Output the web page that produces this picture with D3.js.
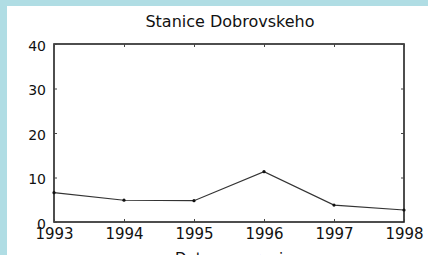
<!DOCTYPE html>
<html>
<head>
<meta charset="utf-8">
<script src="https://cdn.jsdelivr.net/npm/d3@7"></script>
<style>
  body { margin: 0; background: #b0dde4; }
  svg { display: block; }
  text { font-family: "DejaVu Sans", sans-serif; fill: #111; }
</style>
</head>
<body>
<svg id="vis" width="428" height="255"></svg>
<script>
// data
var years = [1993, 1994, 1995, 1996, 1997, 1998];
var values = [6.6, 4.9, 4.8, 11.3, 3.8, 2.7];
var yTicks = [0, 10, 20, 30, 40];
var title = "Stanice Dobrovskeho";
var xLabel = "Datum mereni";

// constant
var plotLeft = 54, plotRight = 404, plotTop = 44, plotBottom = 222;

var svg = d3.select("#vis");

// white panel
svg.append("rect")
    .attr("x", 7).attr("y", 6)
    .attr("width", 421).attr("height", 249)
    .style("fill", "white");

var x = d3.scaleLinear().domain([1993, 1998]).range([plotLeft, plotRight]);
var y = d3.scaleLinear().domain([0, 40]).range([plotBottom, plotTop]);

// box
svg.append("rect")
    .attr("x", plotLeft).attr("y", plotTop)
    .attr("width", plotRight - plotLeft).attr("height", plotBottom - plotTop)
    .style("fill", "none")
    .style("stroke", "#222")
    .style("stroke-width", 1.6);

// x axis (bottom + top, inward ticks)
var xAxisB = svg.append("g")
    .attr("transform", "translate(0," + plotBottom + ")")
    .call(d3.axisBottom(x).tickValues(years).tickFormat(d3.format("d")).tickSizeInner(-3).tickSizeOuter(0).tickPadding(6));
var xAxisT = svg.append("g")
    .attr("transform", "translate(0," + plotTop + ")")
    .call(d3.axisTop(x).tickValues(years).tickFormat("").tickSizeInner(-3).tickSizeOuter(0));

// y axis (left + right)
var yAxisL = svg.append("g")
    .attr("transform", "translate(" + plotLeft + ",0)")
    .call(d3.axisLeft(y).tickValues(yTicks).tickSizeInner(-3).tickSizeOuter(0).tickPadding(8));
var yAxisR = svg.append("g")
    .attr("transform", "translate(" + plotRight + ",0)")
    .call(d3.axisRight(y).tickValues(yTicks).tickFormat("").tickSizeInner(-3).tickSizeOuter(0));

[xAxisB, xAxisT, yAxisL, yAxisR].forEach(function (g) {
    g.select(".domain").remove();
    g.selectAll("line").style("stroke", "#444");
    g.selectAll("text").style("fill", "#111")
        .style("font-family", "'DejaVu Sans', sans-serif");
});
xAxisB.selectAll("text").style("font-size", "15px");
yAxisL.selectAll("text").style("font-size", "14px").attr("dy", "0.45em");

// line
svg.append("path")
    .datum(years.map(function (d, i) { return [d, values[i]]; }))
    .attr("fill", "none")
    .attr("stroke", "#333")
    .attr("stroke-width", 1.1)
    .attr("d", d3.line()
        .x(function (d) { return x(d[0]); })
        .y(function (d) { return y(d[1]); }));

svg.append("g")
    .selectAll("circle")
    .data(values)
    .enter()
    .append("circle")
    .attr("cx", function (d, i) { return x(years[i]); })
    .attr("cy", function (d) { return y(d); })
    .attr("r", 1.6)
    .style("fill", "#111");

// title
svg.append("text")
    .attr("x", 230)
    .attr("y", 27)
    .attr("text-anchor", "middle")
    .style("font-size", "16px")
    .text(title);

// x label (cut off at bottom)
svg.append("text")
    .attr("x", (plotLeft + plotRight) / 2)
    .attr("y", 264)
    .attr("text-anchor", "middle")
    .style("font-size", "15px")
    .text(xLabel);
</script>
</body>
</html>
